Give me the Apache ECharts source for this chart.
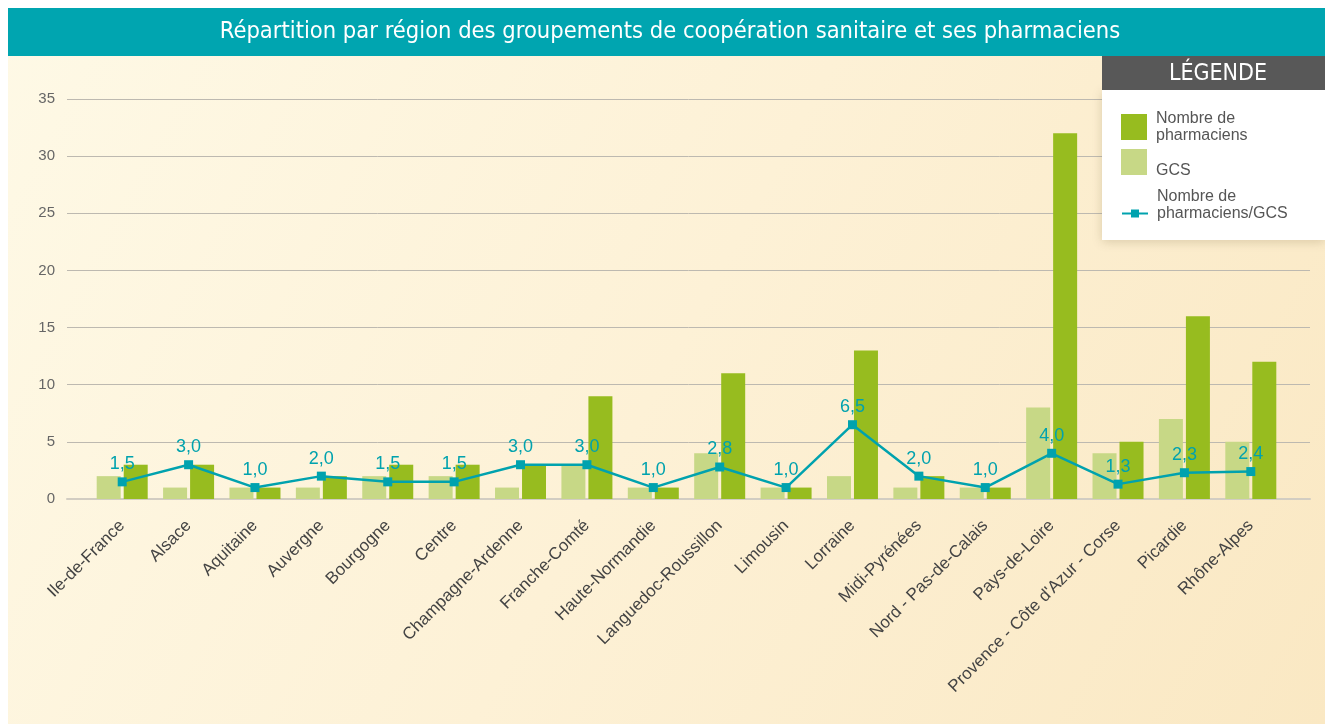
<!DOCTYPE html>
<html lang="fr">
<head>
<meta charset="utf-8">
<title>Répartition par région des groupements de coopération sanitaire et ses pharmaciens</title>
<script src="https://cdn.jsdelivr.net/npm/echarts@6/dist/echarts.min.js"></script>
<style>
  html, body { margin: 0; padding: 0; background: #ffffff; }
  #chart { width: 1325px; height: 724px; }
</style>
</head>
<body>
<div id="chart"></div>
<script>
// Régions
const regions = [
  'Ile-de-France', 'Alsace', 'Aquitaine', 'Auvergne', 'Bourgogne', 'Centre',
  'Champagne-Ardenne', 'Franche-Comté', 'Haute-Normandie', 'Languedoc-Roussillon',
  'Limousin', 'Lorraine', 'Midi-Pyrénées', 'Nord - Pas-de-Calais', 'Pays-de-Loire',
  'Provence - Côte d\'Azur - Corse', 'Picardie', 'Rhône-Alpes'
];
// Nombre de GCS par région
const gcs = [2, 1, 1, 1, 2, 2, 1, 3, 1, 4, 1, 2, 1, 1, 8, 4, 7, 5];
// Nombre de pharmaciens par région
const pharmaciens = [3, 3, 1, 2, 3, 3, 3, 9, 1, 11, 1, 13, 2, 1, 32, 5, 16, 12];
// Nombre de pharmaciens par GCS
const pharmaciensParGcs = [1.5, 3.0, 1.0, 2.0, 1.5, 1.5, 3.0, 3.0, 1.0, 2.8, 1.0, 6.5, 2.0, 1.0, 4.0, 1.3, 2.3, 2.4];
// Graduations de l'axe des valeurs
const yTicks = [0, 5, 10, 15, 20, 25, 30, 35];

const DARK_GREEN = '#97bc1f';
const LIGHT_GREEN = '#c7d886';
const TEAL = '#00a2ae';
const NARROW = "'Liberation Sans Narrow', 'DejaVu Sans Condensed', 'Roboto Condensed', sans-serif";
const SANS = "'Liberation Sans', Arial, Helvetica, sans-serif";

// Libellés de la légende (les lignes vides servent à caler le texte sur le symbole)
const legendNames = {
  'Nombre de pharmaciens': 'Nombre de\npharmaciens',
  'GCS': '\nGCS',
  'Nombre de pharmaciens/GCS': 'Nombre de\npharmaciens/GCS\n'
};

const chart = echarts.init(document.getElementById('chart'), null, { renderer: 'canvas' });

const yMin = yTicks[0];
const yMax = yTicks[yTicks.length - 1];
const yStep = yTicks[1] - yTicks[0];

const legendText = { color: '#555555', fontSize: 16, fontFamily: SANS, lineHeight: 17, padding: [0, 0, 0, 4] };

chart.setOption({
  animation: false,
  graphic: [
    // fond du panneau
    {
      type: 'rect', z: -10, silent: true,
      shape: { x: 8, y: 8, width: 1317, height: 716 },
      style: {
        fill: new echarts.graphic.LinearGradient(0, 0, 1, 1, [
          { offset: 0, color: '#fef9e6' },
          { offset: 0.5, color: '#fdf1d6' },
          { offset: 1, color: '#fae8c3' }
        ])
      }
    },
    // bandeau du titre
    {
      type: 'rect', z: 5, silent: true,
      shape: { x: 8, y: 8, width: 1317, height: 48 },
      style: { fill: '#00a5b0' }
    },
    {
      type: 'text', z: 6, silent: true,
      x: 670, y: 32,
      style: {
        text: 'Répartition par région des groupements de coopération sanitaire et ses pharmaciens',
        fill: '#ffffff', font: '23.5px ' + NARROW,
        align: 'center', verticalAlign: 'middle'
      }
    },
    // cadre de la légende
    {
      type: 'rect', z: 5, silent: true,
      shape: { x: 1102, y: 90, width: 223, height: 150 },
      style: { fill: '#ffffff', shadowBlur: 10, shadowColor: 'rgba(120,100,60,0.25)', shadowOffsetY: 2 }
    },
    {
      type: 'rect', z: 6, silent: true,
      shape: { x: 1102, y: 56, width: 223, height: 34 },
      style: { fill: '#585858' }
    },
    {
      type: 'text', z: 7, silent: true,
      x: 1218, y: 74,
      style: {
        text: 'LÉGENDE', fill: '#ffffff', font: '23px ' + NARROW,
        align: 'center', verticalAlign: 'middle'
      }
    }
  ],
  legend: [
    {
      z: 10,
      left: 1121, top: 110, padding: 0,
      orient: 'vertical',
      itemWidth: 26, itemHeight: 26, itemGap: 1,
      icon: 'rect',
      data: ['Nombre de pharmaciens', 'GCS'],
      formatter: n => legendNames[n],
      textStyle: legendText,
      selectedMode: false
    },
    {
      z: 10,
      left: 1121, top: 188, padding: 0,
      orient: 'vertical',
      itemWidth: 26, itemHeight: 10,
      data: ['Nombre de pharmaciens/GCS'],
      formatter: n => legendNames[n],
      textStyle: legendText,
      selectedMode: false
    }
  ],
  grid: [
    // zone du graphique (barres et courbe)
    { left: 89, right: 41, top: 99, bottom: 225, containLabel: false },
    // lignes de repère, plus larges que la zone des barres
    { left: 67, right: 15, top: 99, bottom: 225, containLabel: false }
  ],
  xAxis: [
    {
      type: 'category', gridIndex: 0, data: regions,
      axisLine: { show: false }, axisTick: { show: false },
      axisLabel: {
        rotate: 45, interval: 0, margin: 24,
        color: '#444444', fontSize: 17, fontFamily: SANS
      }
    },
    {
      type: 'category', gridIndex: 1, data: [''],
      axisLine: { show: true, lineStyle: { color: '#d2cdc2', width: 2 } },
      axisTick: { show: false }, axisLabel: { show: false }
    }
  ],
  yAxis: [
    {
      type: 'value', gridIndex: 0, min: yMin, max: yMax, interval: yStep,
      axisLabel: { show: false }, splitLine: { show: false },
      axisLine: { show: false }, axisTick: { show: false }
    },
    {
      type: 'value', gridIndex: 1, min: yMin, max: yMax, interval: yStep,
      axisLine: { show: false }, axisTick: { show: false },
      axisLabel: { margin: 12, color: '#666666', fontSize: 15, fontFamily: SANS },
      splitLine: { show: true, lineStyle: { color: '#bdb9b0', width: 1 } }
    }
  ],
  series: [
    {
      name: 'GCS', type: 'bar', xAxisIndex: 0, yAxisIndex: 0,
      data: gcs, barWidth: 24, barGap: '12.5%',
      itemStyle: { color: LIGHT_GREEN }
    },
    {
      name: 'Nombre de pharmaciens', type: 'bar', xAxisIndex: 0, yAxisIndex: 0,
      data: pharmaciens, barWidth: 24,
      itemStyle: { color: DARK_GREEN }
    },
    {
      name: 'Nombre de pharmaciens/GCS', type: 'line', xAxisIndex: 0, yAxisIndex: 0,
      data: pharmaciensParGcs, z: 4,
      symbol: 'rect', symbolSize: 9,
      lineStyle: { color: TEAL, width: 2.5 },
      itemStyle: { color: TEAL },
      label: {
        show: true, position: 'top', distance: 4,
        color: TEAL, fontSize: 18, fontFamily: SANS,
        formatter: p => p.value.toFixed(1).replace('.', ',')
      }
    }
  ]
});
</script>
</body>
</html>
